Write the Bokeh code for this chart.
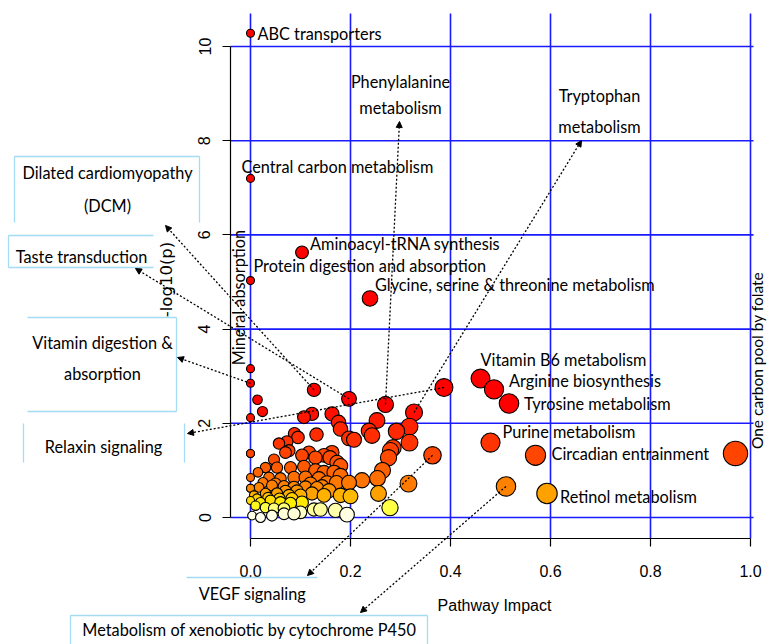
import numpy as np
from bokeh.plotting import figure
from bokeh.models import (Label, Arrow, NormalHead, Range1d, FixedTicker, NumeralTickFormatter,
                          ColumnDataSource, LinearAxis)
from bokeh.embed import file_html
from bokeh.resources import INLINE

# ---------------- data ----------------
# labelled pathways (impact, -log10 p)
lab_names = ["ABC transporters", "Central carbon metabolism", "Aminoacyl-tRNA synthesis",
             "Protein digestion and absorption", "Glycine, serine & threonine metabolism",
             "Vitamin B6 metabolism", "Arginine biosynthesis", "Tyrosine metabolism",
             "Purine metabolism", "Circadian entrainment", "Retinol metabolism",
             "One carbon pool by folate", "Metabolism of xenobiotic by cytochrome P450",
             "Relaxin signaling", "Tryptophan metabolism", "Phenylalanine metabolism",
             "VEGF signaling", "Dilated cardiomyopathy (DCM)", "Taste transduction",
             "Vitamin digestion & absorption", "Mineral absorption"]
lab_impact = [0.000, 0.000, 0.103, 0.000, 0.239, 0.460, 0.487, 0.517, 0.480, 0.570, 0.593,
              0.970, 0.511, 0.387, 0.327, 0.270, 0.364, 0.127, 0.197, 0.000, 0.000]
lab_logp = [10.28, 7.20, 5.63, 5.03, 4.65, 2.95, 2.72, 2.42, 1.59, 1.32, 0.51,
            1.36, 0.66, 2.76, 2.23, 2.40, 1.32, 2.71, 2.52, 2.85, 3.16]

# remaining pathways
other_impact = [0.014, 0.024, 0.000, 0.107, 0.123, 0.163, 0.176, 0.180, 0.207, 0.253, 0.237,
                0.243, 0.088, 0.095, 0.132, 0.057, 0.073, 0.070, 0.077, 0.000, 0.047, 0.103,
                0.117, 0.130, 0.159, 0.173, 0.180, 0.147, 0.163, 0.030, 0.015, 0.000, 0.053,
                0.080, 0.107, 0.130, 0.147, 0.167, 0.180, 0.037, 0.060, 0.087, 0.110, 0.137,
                0.153, 0.172, 0.197, 0.223, 0.000, 0.017, 0.043, 0.067, 0.087, 0.110, 0.133,
                0.157, 0.180, 0.200, 0.007, 0.030, 0.053, 0.077, 0.100, 0.123, 0.147, 0.000,
                0.020, 0.040, 0.060, 0.080, 0.103, 0.127, 0.010, 0.030, 0.047, 0.067, 0.003,
                0.020, 0.043, 0.067, 0.087, 0.100, 0.140, 0.170, 0.193, 0.292, 0.318, 0.318,
                0.280, 0.285, 0.276, 0.264, 0.254, 0.316, 0.256, 0.279, 0.197, 0.000, 0.000,
                0.025, 0.050, 0.070, 0.093, 0.013, 0.035, 0.058, 0.083, 0.120, 0.143]
other_logp = [2.50, 2.25, 2.12, 2.13, 2.20, 2.20, 2.02, 1.88, 1.65, 2.06, 1.84,
              1.74, 1.78, 1.70, 1.76, 1.57, 1.61, 1.38, 1.42, 1.36, 1.23, 1.32,
              1.38, 1.27, 1.27, 1.17, 1.10, 1.32, 1.38, 1.06, 0.96, 0.85, 1.06,
              1.06, 1.08, 1.00, 0.96, 0.96, 0.89, 0.85, 0.83, 0.85, 0.85, 0.83,
              0.74, 0.74, 0.74, 0.79, 0.62, 0.64, 0.68, 0.66, 0.64, 0.64, 0.62,
              0.57, 0.47, 0.45, 0.47, 0.51, 0.51, 0.47, 0.47, 0.51, 0.47, 0.36,
              0.32, 0.36, 0.32, 0.30, 0.32, 0.17, 0.25, 0.21, 0.19, 0.19, 0.04,
              0.00, 0.04, 0.08, 0.08, 0.11, 0.17, 0.15, 0.06, 1.83, 1.93, 1.59,
              1.42, 1.48, 1.27, 1.00, 0.83, 0.72, 0.51, 0.21, 1.68, 1.36, 0.62,
              0.74, 0.72, 0.56, 0.56, 0.40, 0.42, 0.40, 0.40, 0.72, 0.66]

x_ticks = [0.0, 0.2, 0.4, 0.6, 0.8, 1.0]
y_ticks = [0, 2, 4, 6, 8, 10]

# ---------------- styling helpers ----------------
impact = np.array(lab_impact + other_impact)
logp = np.array(lab_logp + other_logp)

c_y = [0, 0.06, 0.12, 0.18, 0.22, 0.30, 0.38, 0.50, 0.65, 0.85, 1.05, 1.30, 1.60, 2.00, 2.40]
c_g = [255, 255, 255, 255, 255, 240, 215, 165, 130, 110, 92, 72, 52, 32, 0]
c_b = [240, 225, 195, 150, 40, 0, 0, 0, 0, 0, 0, 0, 0, 0, 0]
g = np.interp(logp, c_y, c_g).astype(int)
b = np.interp(logp, c_y, c_b).astype(int)
colors = ["#ff%02x%02x" % (gg, bb) for gg, bb in zip(g, b)]
sizes = 2 * (4.0 + 8.3 * impact ** 0.55)

order = np.argsort(-logp, kind="stable")
src = ColumnDataSource(dict(x=impact[order], y=logp[order],
                            c=[colors[i] for i in order], s=sizes[order]))

# canvas geometry: the frame fills the canvas; plot area placed via pixel mapping
W, H = 767, 644
OX, OY, PPX, PPY = 250.0, 517.0, 500.0, 47.1   # pixel of (0,0) and pixels per unit
def dx(px):
    return (px - OX) / PPX
def dy(py):
    return (OY - py) / PPY

p = figure(width=W, height=H, output_backend="svg", toolbar_location=None,
           x_range=Range1d(dx(0), dx(W)), y_range=Range1d(dy(H), dy(0)),
           x_axis_type=None, y_axis_type=None)
p.min_border = 0
p.min_border_left = 0
p.min_border_right = 0
p.min_border_top = 0
p.min_border_bottom = 0
p.outline_line_color = None
p.background_fill_color = "white"
p.border_fill_color = "white"

# grid lines limited to the plotting region
GRID = "#1a1aff"
p.segment(x0=x_ticks, x1=x_ticks, y0=[dy(538)] * len(x_ticks), y1=[dy(13)] * len(x_ticks),
          line_color=GRID, line_width=1.6)
p.segment(x0=[dx(230)] * len(y_ticks), x1=[dx(753)] * len(y_ticks), y0=y_ticks, y1=y_ticks,
          line_color=GRID, line_width=1.6)

xt = FixedTicker(ticks=x_ticks)
yt = FixedTicker(ticks=y_ticks)
xax = LinearAxis(ticker=xt, formatter=NumeralTickFormatter(format="0.0"),
                 fixed_location=dy(538), bounds=(0, 1))
yax = LinearAxis(ticker=yt, fixed_location=dx(230), bounds=(0, 10))
for ax in (xax, yax):
    ax.axis_line_color = "black"
    ax.axis_line_width = 1.2
    ax.major_tick_line_color = "black"
    ax.major_tick_line_width = 1.2
    ax.major_tick_out = 8
    ax.major_tick_in = 0
    ax.minor_tick_line_color = None
    ax.major_label_text_font = "Liberation Sans"
    ax.major_label_text_font_size = "16px"
    ax.major_label_text_color = "black"
yax.major_label_orientation = "vertical"
xax.major_label_standoff = 18
yax.major_label_standoff = 12
p.add_layout(xax, "below")
p.add_layout(yax, "left")

p.scatter("x", "y", source=src, size="s", fill_color="c", line_color="black", line_width=1.1)

FONT = "Lato"
FS = "16.3px"

def lab(text, x, y, xo=0, yo=0, align="left", angle=0, fs=FS, font=FONT):
    p.add_layout(Label(x=x, y=y, x_offset=xo, y_offset=yo, text=text, text_font=font,
                       text_font_size=fs, text_align=align, text_baseline="middle",
                       angle=angle, text_color="black"))

def idx(name):
    return lab_names.index(name)

# axis titles
lab("Pathway Impact", dx(494), dy(605), align="center", font="Liberation Sans", fs="16px")
lab("-log10(p)", dx(166), dy(279), align="center", angle=np.pi / 2,
    font="DejaVu Sans", fs="16.5px")

# labels attached to points: (name, x offset px, y offset px)
attached = [("ABC transporters", 7, 0), ("Central carbon metabolism", -9, 12),
            ("Aminoacyl-tRNA synthesis", 8, 9), ("Protein digestion and absorption", 3, 15),
            ("Glycine, serine & threonine metabolism", 5, 14), ("Vitamin B6 metabolism", 0, 19),
            ("Arginine biosynthesis", 15, 9), ("Tyrosine metabolism", 15, 0),
            ("Purine metabolism", 12, 11), ("Circadian entrainment", 16, 2),
            ("Retinol metabolism", 13, -3)]
for name, xo, yo in attached:
    i = idx(name)
    lab(name, lab_impact[i], lab_logp[i], xo, yo)

lab("Mineral absorption", dx(238), dy(297), align="center", angle=np.pi / 2)
lab("One carbon pool by folate", dx(756), dy(360), align="center", angle=np.pi / 2,
    fs="15.5px")
lab("Phenylalanine", dx(400), dy(81), align="center")
lab("metabolism", dx(400), dy(107), align="center")
lab("Tryptophan", dx(599), dy(95), align="center")
lab("metabolism", dx(599), dy(126), align="center")

# boxed labels outside the plot
lab("Dilated cardiomyopathy", dx(107), dy(172), align="center")
lab("(DCM)", dx(107), dy(205), align="center")
lab("Taste transduction", dx(81), dy(256), align="center")
lab("Vitamin digestion &", dx(102), dy(342), align="center")
lab("absorption", dx(102), dy(373), align="center")
lab("Relaxin signaling", dx(103), dy(446), align="center")
lab("VEGF signaling", dx(252), dy(593), align="center")
lab("Metabolism of xenobiotic by cytochrome P450", dx(249), dy(629), align="center")

BOX = "#a3dcf3"
box_segs = [(14, 156, 199, 156), (14, 156, 14, 222), (199, 156, 199, 222),
            (8, 235, 153, 235), (8, 235, 8, 267), (8, 267, 153, 267),
            (27, 317, 176, 317), (176, 317, 176, 411), (27, 411, 176, 411),
            (23, 423, 23, 462), (184, 423, 184, 462),
            (186, 577, 317, 577),
            (70, 615, 427, 615), (70, 615, 70, 644), (427, 615, 427, 644)]
for x0, y0, x1, y1 in box_segs:
    p.add_layout(Arrow(x_start=dx(x0), y_start=dy(y0), x_end=dx(x1), y_end=dy(y1),
                       start=None, end=None, line_color=BOX, line_width=1.3))

# dotted arrows from pathways to their labels: (name, head px x, head px y)
arrows = [("Dilated cardiomyopathy (DCM)", 165, 225), ("Taste transduction", 135, 268),
          ("Vitamin digestion & absorption", 177, 357), ("Relaxin signaling", 187, 433),
          ("Phenylalanine metabolism", 399, 121), ("Tryptophan metabolism", 581, 140),
          ("VEGF signaling", 307, 575), ("Metabolism of xenobiotic by cytochrome P450", 360, 612)]
for name, hx, hy in arrows:
    i = idx(name)
    p.add_layout(Arrow(x_start=lab_impact[i], y_start=lab_logp[i], x_end=dx(hx), y_end=dy(hy),
                       line_color="black", line_width=1.3, line_dash="2 2",
                       end=NormalHead(size=6, fill_color="black", line_color="black", line_width=1)))

open("out.html", "w").write(file_html(p, INLINE))
